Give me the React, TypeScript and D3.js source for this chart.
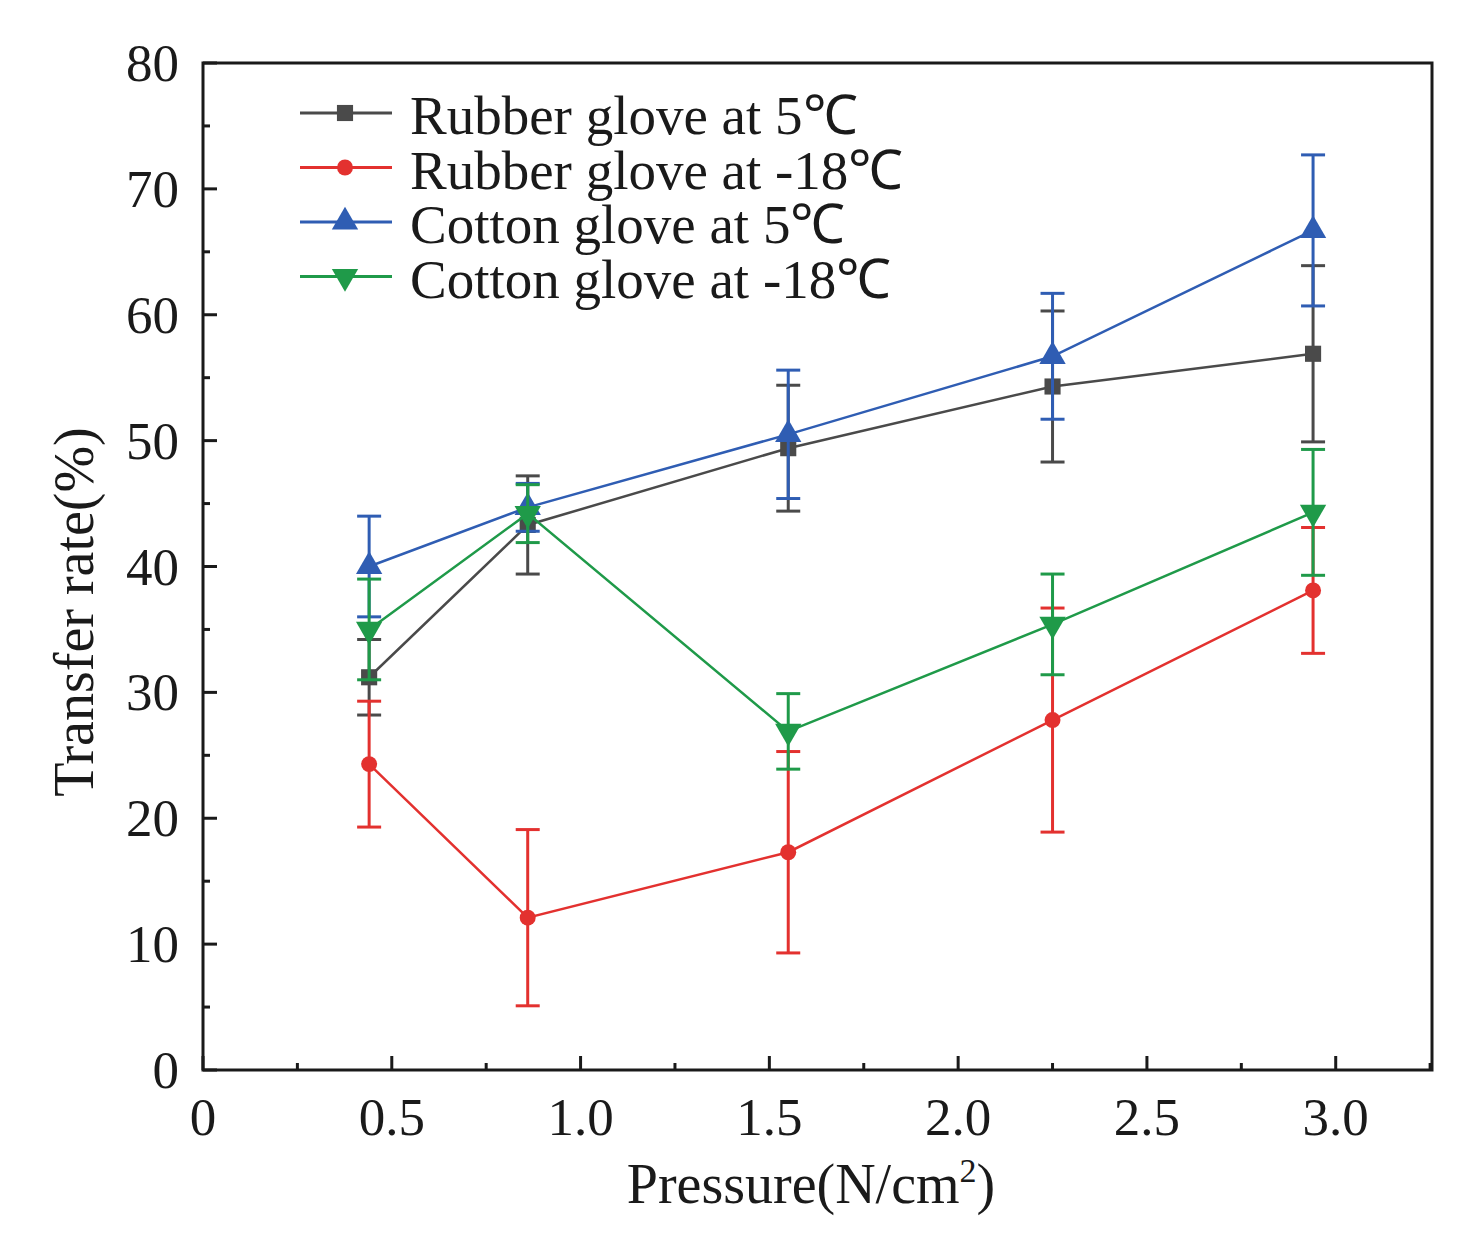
import React, { useEffect, useRef } from 'react';
import * as d3 from 'd3';

// pressure (N/cm²)
const pressures = [0.44, 0.86, 1.55, 2.25, 2.94];

const seriesNames = [
  'Rubber glove at 5℃',
  'Rubber glove at -18℃',
  'Cotton glove at 5℃',
  'Cotton glove at -18℃',
];

// transfer rate (%) and error
const rubber5 = [31.2, 43.3, 49.4, 54.3, 56.9];
const rubber5Err = [3.0, 3.9, 5.0, 6.0, 7.0];
const rubberM18 = [24.3, 12.1, 17.3, 27.8, 38.1];
const rubberM18Err = [5.0, 7.0, 8.0, 8.9, 5.0];
const cotton5 = [40.0, 44.7, 50.5, 56.7, 66.7];
const cotton5Err = [4.0, 1.9, 5.1, 5.0, 6.0];
const cottonM18 = [35.0, 44.2, 26.9, 35.4, 44.3];
const cottonM18Err = [4.0, 2.3, 3.0, 4.0, 5.0];

const xTicks = [0, 0.5, 1.0, 1.5, 2.0, 2.5, 3.0];
const yTicks = [0, 10, 20, 30, 40, 50, 60, 70, 80];

const App: React.FC = () => {
  const svgRef = useRef<SVGSVGElement | null>(null);

  useEffect(() => {
    document.body.style.margin = '0';
    const svg = d3.select(svgRef.current);
    svg.selectAll('*').remove();

    const width = 1478;
    const height = 1244;
    const left = 203;
    const right = 1432;
    const top = 63;
    const bottom = 1070;
    const font = '"Liberation Serif", "Times New Roman", serif';

    svg.attr('width', width).attr('height', height).style('background', '#fff');

    const x = d3.scaleLinear().domain([0, 3.255]).range([left, right]);
    const y = d3.scaleLinear().domain([0, 80]).range([bottom, top]);

    const series = [
      { name: seriesNames[0], values: rubber5, errs: rubber5Err, color: '#4a4a4a', shape: d3.symbolSquare },
      { name: seriesNames[1], values: rubberM18, errs: rubberM18Err, color: '#e3312f', shape: d3.symbolCircle },
      { name: seriesNames[2], values: cotton5, errs: cotton5Err, color: '#2f5db3', shape: d3.symbolTriangle },
      { name: seriesNames[3], values: cottonM18, errs: cottonM18Err, color: '#1f9a49', shape: d3.symbolTriangle },
    ];

    // frame
    svg.append('rect')
      .attr('x', left)
      .attr('y', top)
      .attr('width', right - left)
      .attr('height', bottom - top)
      .attr('fill', 'none')
      .attr('stroke', '#1a1a1a')
      .attr('stroke-width', 3);

    // ticks (inward)
    const xMinor = d3.range(0.25, 3.26, 0.5);
    const yMinor = d3.range(5, 80, 10);
    const ax = svg.append('g').attr('stroke', '#1a1a1a').attr('stroke-width', 3);
    xTicks.forEach((t) => {
      ax.append('line').attr('x1', x(t)).attr('x2', x(t)).attr('y1', bottom).attr('y2', bottom - 14);
    });
    xMinor.forEach((t) => {
      ax.append('line').attr('x1', x(t)).attr('x2', x(t)).attr('y1', bottom).attr('y2', bottom - 7);
    });
    yTicks.forEach((t) => {
      ax.append('line').attr('x1', left).attr('x2', left + 14).attr('y1', y(t)).attr('y2', y(t));
    });
    yMinor.forEach((t) => {
      ax.append('line').attr('x1', left).attr('x2', left + 7).attr('y1', y(t)).attr('y2', y(t));
    });

    // tick labels
    svg.append('g')
      .selectAll('text')
      .data(xTicks)
      .join('text')
      .attr('x', (d) => x(d))
      .attr('y', 1135)
      .attr('text-anchor', 'middle')
      .attr('font-family', font)
      .attr('font-size', 53)
      .attr('fill', '#1a1a1a')
      .text((d) => (d === 0 ? '0' : d3.format('.1f')(d)));

    svg.append('g')
      .selectAll('text')
      .data(yTicks)
      .join('text')
      .attr('x', 179)
      .attr('y', (d) => y(d) + 18)
      .attr('text-anchor', 'end')
      .attr('font-family', font)
      .attr('font-size', 53)
      .attr('fill', '#1a1a1a')
      .text((d) => String(d));

    // axis titles
    const xt = svg.append('text')
      .attr('x', 811)
      .attr('y', 1203)
      .attr('text-anchor', 'middle')
      .attr('font-family', font)
      .attr('font-size', 56)
      .attr('fill', '#1a1a1a');
    xt.append('tspan').text('Pressure(N/cm');
    xt.append('tspan').attr('font-size', 34).attr('dy', -21).text('2');
    xt.append('tspan').attr('dy', 21).text(')');

    svg.append('text')
      .attr('transform', `translate(93, 612) rotate(-90)`)
      .attr('text-anchor', 'middle')
      .attr('font-family', font)
      .attr('font-size', 56)
      .attr('fill', '#1a1a1a')
      .text('Transfer rate(%)');

    const line = d3.line<number>()
      .x((_, i) => x(pressures[i]))
      .y((d) => y(d));

    const symbolFor = (s: typeof series[number], idx: number) => {
      const sizes = [260, 200, 300, 300];
      return d3.symbol().type(s.shape).size(sizes[idx])();
    };

    series.forEach((s, si) => {
      const g = svg.append('g');
      // error bars
      s.values.forEach((v, i) => {
        const cx = x(pressures[i]);
        const e = s.errs[i];
        g.append('line')
          .attr('x1', cx).attr('x2', cx)
          .attr('y1', y(v - e)).attr('y2', y(v + e))
          .attr('stroke', s.color).attr('stroke-width', 3);
        [v - e, v + e].forEach((c) => {
          g.append('line')
            .attr('x1', cx - 12).attr('x2', cx + 12)
            .attr('y1', y(c)).attr('y2', y(c))
            .attr('stroke', s.color).attr('stroke-width', 3);
        });
      });
      g.append('path')
        .datum(s.values)
        .attr('d', line)
        .attr('fill', 'none')
        .attr('stroke', s.color)
        .attr('stroke-width', 2.5);
      g.selectAll('path.pt')
        .data(s.values)
        .join('path')
        .attr('class', 'pt')
        .attr('d', symbolFor(s, si))
        .attr('transform', (d, i) => `translate(${x(pressures[i])}, ${y(d)})${si === 3 ? ' rotate(180)' : ''}`)
        .attr('fill', s.color);
    });

    // legend
    const legend = svg.append('g');
    series.forEach((s, si) => {
      const ly = 113 + si * 54.5;
      legend.append('line')
        .attr('x1', 300).attr('x2', 392)
        .attr('y1', ly).attr('y2', ly)
        .attr('stroke', s.color).attr('stroke-width', 3);
      legend.append('path')
        .attr('d', symbolFor(s, si))
        .attr('transform', `translate(345, ${ly})${si === 3 ? ' rotate(180)' : ''}`)
        .attr('fill', s.color);
      legend.append('text')
        .attr('x', 410)
        .attr('y', ly + 21)
        .attr('font-family', font)
        .attr('font-size', 55)
        .attr('fill', '#1a1a1a')
        .text(s.name);
    });
  }, []);

  return <svg ref={svgRef}></svg>;
};

export default App;
